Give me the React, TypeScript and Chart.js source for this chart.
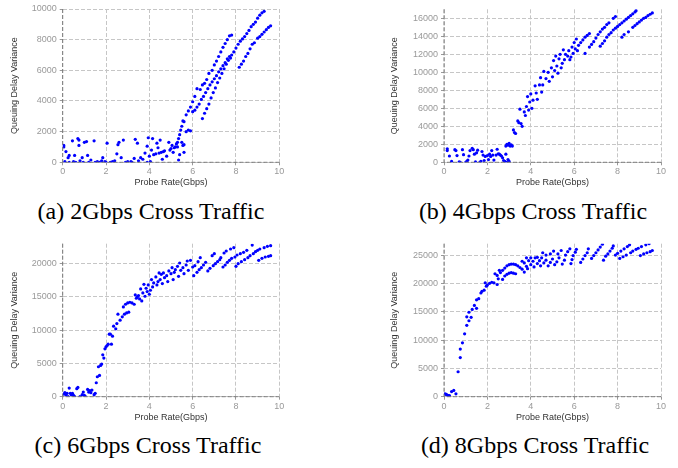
import React, { useEffect, useRef } from 'react';
import { Chart, registerables } from 'chart.js';
Chart.register(...registerables);

// ---------- text ----------
const captions = ['(a) 2Gbps Cross Traffic', '(b) 4Gbps Cross Traffic', '(c) 6Gbps Cross Traffic', '(d) 8Gbps Cross Traffic'];
const xTitle = 'Probe Rate(Gbps)';
const yTitle = 'Queuing Delay Variance';

// ---------- axes ----------
const xMax = 10;
const xTicks = [0, 2, 4, 6, 8, 10];
const yMaxes = [10000, 17000, 23000, 27000];
const yTicksA = [0, 2000, 4000, 6000, 8000, 10000];
const yTicksB = [0, 2000, 4000, 6000, 8000, 10000, 12000, 14000, 16000];
const yTicksC = [0, 5000, 10000, 15000, 20000];
const yTicksD = [0, 5000, 10000, 15000, 20000, 25000];
const yTicksAll = [yTicksA, yTicksB, yTicksC, yTicksD];

// ---------- data: [probe rate, variance] ----------
const pointsA: number[][] = [
  [0.05,1100],[0.05,1000],[0.1,50],[0.15,700],[0.25,300],[0.3,450],[0.3,0],[0.45,1400],[0.5,50],[0.55,450],[0.6,0],[0.7,1550],[0.75,1100],[0.75,1450],[0.8,100],[0.9,300],[0.95,0],[1.0,1300],[1.1,1350],[1.15,450],[1.2,0],[1.3,150],[1.45,1400],[1.5,0],[1.6,50],[1.7,0],[1.8,100],[1.85,300],[1.95,50],[2.0,0],[2.05,1250],[2.2,0],[2.3,50],[2.4,100],[2.5,550],[2.55,1150],[2.6,1300],[2.7,300],[2.8,1450],[2.9,0],[3.0,50],[3.15,50],[3.2,0],[3.3,250],[3.35,1500],[3.45,1250],[3.5,100],[3.6,300],[3.7,200],[3.8,600],[3.9,1050],[3.9,0],[3.95,1600],[4.0,400],[4.05,50],[4.1,800],[4.15,1550],[4.2,500],[4.3,550],[4.35,1250],[4.4,950],[4.45,600],[4.5,1450],[4.55,650],[4.6,200],[4.65,700],[4.7,750],[4.8,400],[4.9,1300],[4.95,800],[5.0,900],[5.05,1100],[5.1,650],[5.15,950],[5.2,1000],[5.25,1200],[5.3,1000],[5.35,150],[5.4,500],[5.5,1300],[5.55,1100],[5.6,650],[5.6,1150],
  [5.3,1300],[5.35,1550],[5.4,1800],[5.45,2100],[5.5,2350],[5.55,2700],[5.6,2650],[5.7,3100],[5.8,3350],[5.9,3600],[6.0,3950],[6.1,4300],[6.2,4800],[6.35,4750],[6.45,5050],[6.55,5150],[6.65,5400],[6.75,5800],[6.9,6000],[7.0,6350],[7.1,6600],[7.2,6900],[7.3,7200],[7.4,7500],[7.5,7750],[7.6,8000],[7.7,8250],[7.8,8300],
  [5.7,2000],[5.8,2100],[5.9,2050],[6.0,3300],[6.1,3400],[6.2,3600],[6.3,3800],[6.4,4100],[6.5,4300],[6.6,4550],[6.7,4800],[6.8,5050],[6.9,5250],[7.0,5450],[7.1,5650],[7.2,5900],[7.3,6100],[7.4,6300],[7.5,6500],[7.6,6750],[7.7,6900],[7.8,7000],[7.9,7200],[8.0,7450],[8.1,7700],[8.2,7900],[8.3,8050],[8.4,8200],[8.5,8400],[8.6,8600],[8.7,8850],[8.8,9000],[8.9,9150],[9.0,9400],[9.1,9600],[9.2,9750],[9.3,9850],
  [6.45,2850],[6.55,3200],[6.65,3500],[6.75,3800],[6.85,4200],[6.95,4550],[7.05,4850],[7.15,5200],[7.25,5500],[7.35,5800],[7.45,6100],[7.55,6400],[7.65,6650],[7.75,6800],
  [8.15,6200],[8.25,6400],[8.35,6600],[8.45,6900],[8.55,7100],[8.65,7400],[8.75,7700],[8.85,7800],[9.0,8100],[9.1,8200],[9.2,8350],[9.3,8500],[9.4,8650],[9.5,8800],[9.6,8900],
];

const pointsB: number[][] = [
  [0.15,1500],[0.15,1300],[0.25,700],[0.35,100],[0.5,1400],[0.55,1300],[0.6,750],[0.7,50],[0.75,0],[0.85,1400],[0.9,850],[1.0,0],[1.05,100],[1.1,250],[1.15,700],[1.2,1300],[1.3,1550],[1.35,1400],[1.4,900],[1.45,50],[1.5,1050],[1.55,1350],[1.65,0],[1.7,100],[1.75,1200],[1.8,800],[1.85,200],[1.9,650],[2.0,750],[2.05,300],[2.1,900],[2.15,650],[2.2,1300],[2.25,800],[2.3,250],[2.4,800],[2.45,1450],[2.5,950],[2.55,900],[2.6,800],[2.65,700],[2.7,500],[2.75,200],[2.8,100],[2.85,900],[2.9,0],[2.95,300],[3.0,100],
  [2.85,1800],[2.9,2000],[2.95,1900],[3.0,2100],[3.05,1800],[3.1,1950],[3.15,1800],[3.2,3600],[3.25,3300],[3.3,3200],
  [3.4,4600],[3.45,4400],[3.5,5900],[3.55,4300],[3.6,4000],[3.7,5600],[3.75,5200],[3.8,6200],[3.85,7300],[3.9,5800],[3.95,6700],[4.0,7600],[4.05,6000],[4.1,6900],[4.2,8500],[4.25,7700],[4.3,7000],[4.4,8600],[4.45,9400],[4.5,7800],[4.55,8600],[4.6,10100],[4.7,9300],[4.8,10000],[4.85,9000],[4.95,10500],[5.0,9500],[5.05,11300],[5.1,10200],[5.15,11800],[5.2,10700],[5.25,9900],[5.3,11500],[5.35,12000],[5.4,10500],[5.45,11000],[5.5,12500],[5.55,11400],[5.6,12000],[5.7,11800],[5.75,12400],[5.8,11400],[5.85,11700],[5.9,12800],[5.95,12100],[6.0,13300],[6.05,12600],[6.1,13700],[6.15,12400],[6.2,13000],[6.3,13300],[6.4,13600],[6.5,12100],[6.5,13900],[6.6,14100],[6.7,12800],[6.7,14300],[6.8,13100],[6.9,13400],[7.0,13800],[7.1,14200],[7.2,12900],[7.2,14500],[7.3,13200],[7.3,14800],[7.4,13500],[7.4,15000],[7.5,13900],[7.5,15300],[7.6,14200],[7.6,15500],[7.7,14400],[7.8,14700],[7.8,16000],[7.9,14900],[7.9,16200],[8.0,15100],[8.1,15300],[8.2,13900],[8.2,15500],[8.3,14200],[8.3,15700],[8.4,15900],[8.5,14500],[8.5,16100],[8.6,16300],[8.7,15000],[8.7,16500],[8.8,15200],[8.8,16700],[8.85,16850],[8.9,15400],[9.0,15600],[9.1,15800],[9.2,16000],[9.3,16100],[9.4,16300],[9.5,16450],[9.6,16600],
];

const pointsC: number[][] = [
  [0.05,400],[0.1,600],[0.15,300],[0.2,500],[0.25,0],[0.3,1300],[0.35,500],[0.4,300],[0.45,500],[0.5,200],[0.55,0],[0.65,1200],[0.7,1400],[0.8,0],[0.9,300],[0.95,700],[1.0,200],[1.05,0],[1.15,1100],[1.2,700],[1.25,900],[1.3,600],[1.35,1000],[1.45,300],[1.5,500],[1.55,2100],[1.6,3000],[1.65,4500],[1.7,3200],[1.75,4700],[1.8,4900],[1.85,6300],[1.9,5800],[1.95,7200],[2.0,7500],[2.05,7700],[2.1,7900],[2.15,9400],[2.2,9400],[2.25,7900],[2.3,9100],[2.35,10600],[2.45,10200],[2.5,11000],[2.55,12400],[2.65,11500],[2.75,12000],[2.8,13500],[2.85,12400],[2.9,13900],[2.95,12600],[3.0,14100],[3.05,12700],[3.1,14200],[3.2,14100],[3.3,13900],[3.35,15300],[3.4,14800],[3.45,15000],[3.5,15200],[3.55,14700],[3.6,16200],[3.65,14400],[3.7,15600],[3.75,16900],[3.8,15100],[3.85,16300],[3.9,15800],[3.95,16800],[4.0,15400],[4.05,16000],[4.1,17600],[4.15,16500],[4.2,17100],[4.3,18000],[4.35,16800],[4.4,17300],[4.45,18600],[4.5,17600],[4.55,18400],[4.6,17000],[4.65,18600],[4.7,17900],[4.8,18200],[4.85,17300],[4.9,18900],[5.0,18500],[5.05,19400],[5.1,17600],[5.15,18700],[5.2,19100],[5.3,19600],[5.35,18100],[5.4,20100],[5.45,19000],[5.55,19400],[5.6,18500],[5.7,19800],[5.75,20400],[5.8,19000],[5.9,20500],[6.0,19500],[6.05,18200],[6.1,19700],[6.2,18700],[6.25,20300],[6.3,19100],[6.35,20900],[6.4,19400],[6.5,19800],[6.6,20200],[6.7,18900],[6.8,19300],[6.9,21200],[6.95,19700],[7.0,21500],[7.05,20000],[7.15,20300],[7.25,20600],[7.3,20900],[7.4,19500],[7.45,21600],[7.5,19800],[7.55,21900],[7.6,20200],[7.7,20500],[7.75,22200],[7.8,20800],[7.9,22400],[7.95,21000],[8.0,19600],[8.05,21300],[8.1,20000],[8.2,21500],[8.25,20300],[8.35,21700],[8.4,20600],[8.5,22000],[8.55,20900],[8.65,21200],[8.75,22800],[8.8,21500],[8.9,21800],[9.0,22000],[9.05,20500],[9.1,22200],[9.2,20800],[9.3,22400],[9.35,21000],[9.45,22600],[9.5,21100],[9.6,22700],[9.6,21200],
];

const pointsD: number[][] = [
  [0.05,500],[0.1,400],[0.15,300],[0.2,200],[0.25,200],[0.35,900],[0.45,1100],[0.55,500],[0.65,4400],[0.75,6900],[0.75,8400],[0.85,9500],[0.95,11100],[1.05,12600],[1.05,14100],[1.15,13400],[1.15,14900],[1.25,14000],[1.3,15400],[1.4,16100],[1.5,15600],[1.5,17100],[1.6,17300],[1.7,18300],[1.75,18600],[1.85,18800],[1.9,20100],[1.95,19500],[2.0,19700],[2.1,20000],[2.2,20200],[2.3,20100],[2.35,21700],[2.45,19800],[2.45,21400],[2.5,20800],[2.55,22300],[2.6,21900],[2.7,20700],[2.7,22300],[2.8,21300],[2.8,22700],[2.9,21600],[2.9,23100],[3.0,21800],[3.0,23300],[3.1,21900],[3.1,23400],[3.2,21800],[3.2,23400],[3.3,21700],[3.3,23300],[3.4,23100],[3.5,22800],[3.6,22500],[3.6,23900],[3.7,22000],[3.7,23600],[3.8,24500],[3.8,23000],[3.85,22600],[3.9,24000],[4.0,24500],[4.0,23300],[4.1,23900],[4.15,22900],[4.2,24500],[4.3,23500],[4.3,24600],[4.4,24000],[4.45,23100],[4.5,24500],[4.55,25400],[4.6,23600],[4.7,24100],[4.7,25000],[4.8,23100],[4.9,23700],[4.9,25200],[5.0,24300],[5.05,25700],[5.1,23300],[5.2,23800],[5.25,25200],[5.3,24500],[5.4,25800],[5.45,23400],[5.55,24100],[5.6,25000],[5.7,25600],[5.8,26100],[5.85,23500],[5.9,24200],[5.95,24900],[6.05,25500],[6.1,26000],[6.3,23700],[6.4,24300],[6.5,24900],[6.6,25400],[6.65,26100],[6.8,24400],[6.9,24900],[7.0,25400],[7.1,25900],[7.2,26400],[7.3,26900],[7.35,24100],[7.45,24800],[7.55,25200],[7.65,25700],[7.75,26200],[7.8,26600],[7.9,25000],[8.0,25300],[8.1,24400],[8.15,25700],[8.25,24700],[8.3,26100],[8.4,25000],[8.45,26500],[8.55,26800],[8.6,25400],[8.7,25700],[8.85,26000],[8.95,26200],[9.05,24900],[9.1,26500],[9.2,25200],[9.3,26800],[9.35,25400],[9.45,27000],[9.5,25600],[9.6,25800],
];

const allPoints = [pointsA, pointsB, pointsC, pointsD];

// ---------- layout ----------
const boxes = [
  { left: 0, top: 0, width: 339, height: 190 },
  { left: 339, top: 0, width: 339, height: 190 },
  { left: 0, top: 232, width: 339, height: 193 },
  { left: 339, top: 232, width: 339, height: 193 },
];
const plots = [
  { left: 62.7, right: 279.3, top: 9, bottom: 162.3 },
  { left: 444, right: 661, top: 9.3, bottom: 162.3 },
  { left: 62.7, right: 279.3, top: 243.7, bottom: 396.7 },
  { left: 444, right: 661, top: 243.7, bottom: 396.7 },
];
const captionPos = [
  { cx: 151, cy: 211 },
  { cx: 533, cy: 211 },
  { cx: 148, cy: 445 },
  { cx: 535, cy: 445 },
];

const SANS = "'Liberation Sans', Arial, Helvetica, sans-serif";
const SERIF = "'Liberation Serif', 'Times New Roman', Times, serif";

const axisLines = {
  id: 'axisLines',
  afterDatasetsDraw(chart: any) {
    const { ctx, chartArea } = chart;
    ctx.save();
    ctx.strokeStyle = '#7a7a7a';
    ctx.lineWidth = 1;
    ctx.setLineDash([4, 2]);
    ctx.beginPath();
    ctx.moveTo(chartArea.left, chartArea.top);
    ctx.lineTo(chartArea.left, chartArea.bottom);
    ctx.lineTo(chartArea.right, chartArea.bottom);
    ctx.stroke();
    ctx.restore();
  },
};

function Panel({ idx }: { idx: number }) {
  const ref = useRef<HTMLCanvasElement>(null);
  const box = boxes[idx];
  const plot = plots[idx];
  useEffect(() => {
    const yTitlePad = idx % 2 === 0 ? 9.6 : 50.6;
    const chart = new Chart(ref.current as HTMLCanvasElement, {
      type: 'scatter',
      data: {
        datasets: [{
          data: allPoints[idx].map(([x, y]) => ({ x, y })),
          backgroundColor: '#0000ff',
          borderWidth: 0,
          pointRadius: 1.6,
          pointHoverRadius: 1.6,
        }],
      },
      options: {
        animation: false,
        responsive: false,
        maintainAspectRatio: false,
        events: [],
        layout: {
          padding: {
            left: 0,
            top: plot.top - box.top,
            right: box.left + box.width - plot.right,
            bottom: 0,
          },
        },
        plugins: { legend: { display: false }, tooltip: { enabled: false } },
        scales: {
          x: {
            type: 'linear',
            min: 0,
            max: xMax,
            afterBuildTicks: (s: any) => { s.ticks = xTicks.map((v) => ({ value: v })); },
            ticks: { color: '#999', font: { family: SANS, size: 9 }, padding: 1, maxRotation: 0, autoSkip: false, callback: (v: any) => String(v) },
            grid: { color: '#c6c6c6', lineWidth: 1, tickLength: 3, tickColor: '#999' },
            border: { display: false, dash: [4, 2] },
            title: { display: true, text: xTitle, color: '#333', font: { family: SANS, size: 9 }, padding: { top: 0, bottom: 1.6 } },
            afterFit: (s: any) => { s.height = box.top + box.height - plot.bottom; },
          },
          y: {
            type: 'linear',
            min: 0,
            max: yMaxes[idx],
            afterBuildTicks: (s: any) => { s.ticks = yTicksAll[idx].map((v) => ({ value: v })); },
            ticks: { color: '#999', font: { family: SANS, size: 9 }, padding: 3, autoSkip: false, callback: (v: any) => String(v) },
            grid: { color: '#c6c6c6', lineWidth: 1, tickLength: 3, tickColor: '#999' },
            border: { display: false, dash: [4, 2] },
            title: { display: true, text: yTitle, color: '#333', font: { family: SANS, size: 9 }, padding: { top: yTitlePad, bottom: 0 } },
            afterFit: (s: any) => { s.width = plot.left - box.left; },
          },
        },
      } as any,
      plugins: [axisLines],
    });
    return () => chart.destroy();
  }, []);
  return (
    <canvas
      ref={ref}
      width={box.width}
      height={box.height}
      style={{ position: 'absolute', left: box.left, top: box.top, width: box.width, height: box.height }}
    />
  );
}

export default function App() {
  return (
    <div style={{ position: 'absolute', left: 0, top: 0, width: 678, height: 468, background: '#fff', overflow: 'hidden' }}>
      {[0, 1, 2, 3].map((i) => <Panel key={i} idx={i} />)}
      {captions.map((c, i) => (
        <div
          key={c}
          style={{
            position: 'absolute',
            left: captionPos[i].cx - 170,
            width: 340,
            top: captionPos[i].cy - 14,
            height: 28,
            lineHeight: '28px',
            textAlign: 'center',
            fontFamily: SERIF,
            fontSize: 24,
            color: '#000',
            whiteSpace: 'nowrap',
          }}
        >
          {c}
        </div>
      ))}
    </div>
  );
}
